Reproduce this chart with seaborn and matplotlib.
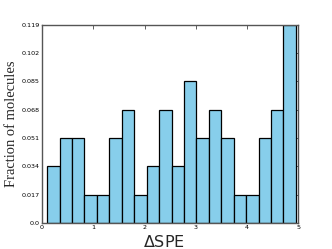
import numpy as np
import pandas as pd
import matplotlib
matplotlib.use("Agg")
import matplotlib.pyplot as plt
import seaborn as sns

# %% --------------------------------------------------------------------------
# Data
# -----------------------------------------------------------------------------
bin_lo, bin_hi, n_bins = 0.1, 4.95, 20
fractions = [0.034, 0.051, 0.051, 0.017, 0.017, 0.051, 0.068, 0.017, 0.034, 0.068,
             0.034, 0.085, 0.051, 0.068, 0.051, 0.017, 0.017, 0.051, 0.068, 0.119]
ytick_vals = [0.0, 0.017, 0.034, 0.051, 0.068, 0.085, 0.102, 0.119]
ytick_labels = ["0.0", "0.017", "0.034", "0.051", "0.068", "0.085", "0.102", "0.119"]
xtick_vals = [0, 1, 2, 3, 4, 5]

edges = np.linspace(bin_lo, bin_hi, n_bins + 1)
df = pd.DataFrame({"dspe": (edges[:-1] + edges[1:]) / 2, "frac": fractions})

# %% --------------------------------------------------------------------------
# Plot
# -----------------------------------------------------------------------------
sns.set_theme(style="white")
plt.rcParams["font.family"] = ["DejaVu Sans"]

fig = plt.figure(figsize=(3.32, 2.49), dpi=100)
ax = fig.add_axes([0.1265, 0.104, 0.7725, 0.797])

sns.histplot(data=df, x="dspe", weights="frac", bins=list(edges), ax=ax,
             color="#87CEEB", alpha=1, edgecolor="black", linewidth=0.9)

ax.set_xlim(0, 5)
ax.set_ylim(0, 0.119)
ax.set_xticks(xtick_vals)
ax.set_xticklabels([str(v) for v in xtick_vals])
ax.set_yticks(ytick_vals)
ax.set_yticklabels(ytick_labels)
ax.tick_params(axis="both", which="both", direction="in", length=3, width=0.6,
               labelsize=4.6, pad=1.5, top=True, right=True, colors="#444444",
               labelcolor="black")

for sp in ax.spines.values():
    sp.set_visible(True)
    sp.set_color("#555555")
    sp.set_linewidth(1.0)

ax.set_ylabel("Fraction of molecules", family="Liberation Serif", fontsize=10.5)
ax.yaxis.set_label_coords(-0.094, 0.5)
ax.set_xlabel(r"$\Delta$SPE", fontsize=11.5)
ax.xaxis.set_label_coords(0.475, -0.118)
ax.xaxis.label.set_va("baseline")

fig.savefig("out.png", dpi=100)
